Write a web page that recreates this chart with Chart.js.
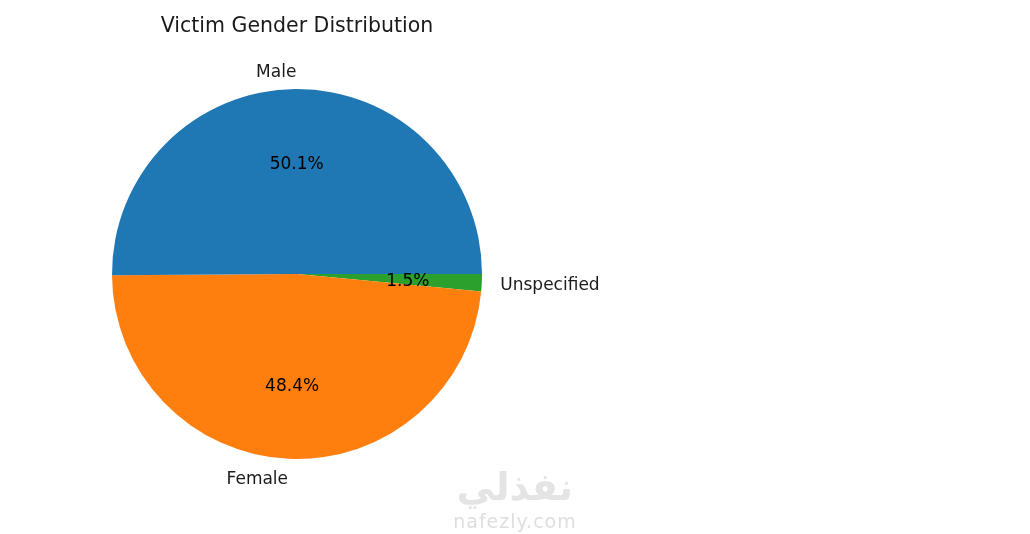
<!DOCTYPE html>
<html lang="en">
<head>
  <meta charset="UTF-8">
  <title>Victim Gender Distribution</title>
  <script src="https://cdn.jsdelivr.net/npm/chart.js"></script>
  <style>
    * {
      box-sizing: border-box;
      margin: 0;
      padding: 0;
    }

    body {
      width: 1030px;
      height: 534px;
      background: #fff;
      position: relative;
      overflow: hidden;
      font-family: 'DejaVu Sans', sans-serif;
    }

    .chart-box {
      position: absolute;
      left: 0;
      top: 0;
      width: 1030px;
      height: 534px;
    }

    .watermark {
      position: absolute;
      left: 440px;
      top: 464px;
      width: 150px;
      text-align: center;
      color: #e4e4e4;
    }

    .watermark .ar {
      font-size: 38px;
      font-weight: bold;
      line-height: 46px;
    }

    .watermark .en {
      font-size: 19px;
      line-height: 22px;
      color: #dedede;
      letter-spacing: 1px;
    }
  </style>
</head>
<body>
  <div class="chart-box">
    <canvas id="genderChart"></canvas>
  </div>
  <div class="watermark">
    <div class="ar">نفذلي</div>
    <div class="en">nafezly.com</div>
  </div>

  <script>
    // values (percent of victims)
    const genders = ['Male', 'Female', 'Unspecified'];
    const shares = [50.1, 48.4, 1.5];
    const sliceColors = ['#1f77b4', '#ff7f0e', '#2ca02c'];

    // matplotlib goes counter-clockwise from 3 o'clock, Chart.js goes clockwise,
    // so feed the slices in reverse order starting at 3 o'clock
    const labels = genders.slice().reverse();
    const values = shares.slice().reverse();
    const colors = sliceColors.slice().reverse();

    const pieLabels = {
      id: 'pieLabels',
      afterDatasetsDraw(chart) {
        const ctx = chart.ctx;
        const meta = chart.getDatasetMeta(0);
        const total = values.reduce((a, b) => a + b, 0);
        const dy = 2; // matplotlib centres on the text box, a touch lower

        ctx.save();
        ctx.textBaseline = 'middle';
        meta.data.forEach((arc, i) => {
          const p = arc.getProps(['x', 'y', 'startAngle', 'endAngle', 'outerRadius'], true);
          const mid = (p.startAngle + p.endAngle) / 2;
          const cos = Math.cos(mid);
          const sin = Math.sin(mid);

          // category label just outside the pie
          ctx.font = '17px "DejaVu Sans"';
          ctx.fillStyle = '#1a1a1a';
          ctx.textAlign = Math.abs(cos) < 1e-6 ? 'center' : (cos > 0 ? 'left' : 'right');
          ctx.fillText(labels[i], p.x + cos * p.outerRadius * 1.1, p.y + sin * p.outerRadius * 1.1 + dy);

          // percentage inside
          ctx.textAlign = 'center';
          ctx.fillStyle = '#000';
          const pct = (values[i] / total * 100).toFixed(1) + '%';
          ctx.fillText(pct, p.x + cos * p.outerRadius * 0.6, p.y + sin * p.outerRadius * 0.6 + dy);
        });

        // title, centred over the pie
        const cx = (chart.chartArea.left + chart.chartArea.right) / 2;
        ctx.font = '20.5px "DejaVu Sans"';
        ctx.fillStyle = '#1a1a1a';
        ctx.textAlign = 'center';
        ctx.fillText('Victim Gender Distribution', cx, 27);
        ctx.restore();
      }
    };

    new Chart(document.getElementById('genderChart'), {
      type: 'pie',
      data: {
        labels: labels,
        datasets: [{
          data: values,
          backgroundColor: colors,
          borderWidth: 0,
          hoverOffset: 0
        }]
      },
      options: {
        responsive: true,
        maintainAspectRatio: false,
        animation: false,
        rotation: 90,
        layout: {
          padding: { top: 89, bottom: 75, left: 0, right: 436 }
        },
        plugins: {
          legend: { display: false },
          tooltip: { enabled: false }
        }
      },
      plugins: [pieLabels]
    });
  </script>
</body>
</html>
